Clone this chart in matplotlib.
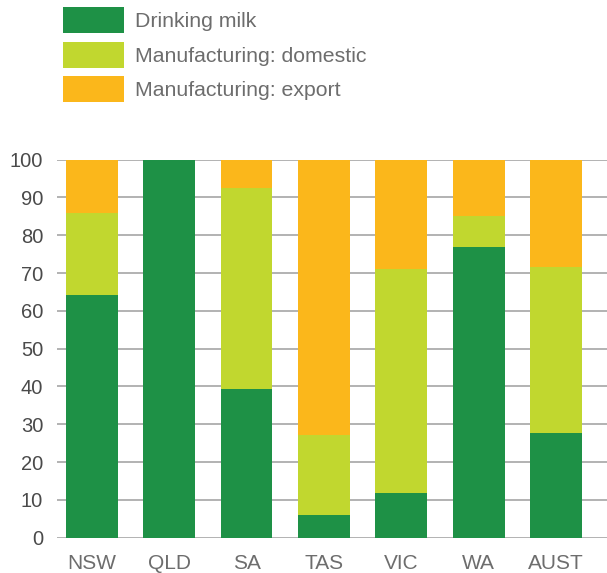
import matplotlib.pyplot as plt
import numpy as np

plt.rcParams['font.family'] = ['Liberation Sans', 'DejaVu Sans']

regions = ["NSW", "QLD", "SA", "TAS", "VIC", "WA", "AUST"]
drinking = [64.2, 100.0, 39.4, 6.0, 11.9, 76.9, 27.7]
domestic = [21.6, 0.0, 53.2, 21.2, 59.2, 8.3, 43.9]
export = [14.2, 0.0, 7.4, 72.8, 28.9, 14.8, 28.4]

series = [
    ("Drinking milk", drinking, "#1e9146"),
    ("Manufacturing: domestic", domestic, "#c1d72f"),
    ("Manufacturing: export", export, "#fbb71b"),
]

fig = plt.figure(figsize=(6.07, 5.73), dpi=100)
ax = fig.add_axes([0.094, 0.0616, 0.906, 0.6597])

x = np.arange(len(regions))
bottom = np.zeros(len(regions))
handles = []
for label, vals, color in series:
    bars = ax.bar(x, vals, width=0.67, bottom=bottom, color=color, label=label, zorder=3)
    handles.append(bars)
    bottom += np.array(vals)

ax.set_ylim(0, 100)
ax.set_xlim(-0.45, 6.66)
ax.set_yticks(range(0, 101, 10))
ax.set_xticks(x)
ax.set_xticklabels(regions)
ax.yaxis.grid(True, color="#a6a6a6", linewidth=1.2, zorder=0)
ax.tick_params(axis="both", length=0, colors="#6d6d6d")
ax.tick_params(axis="y", pad=10, labelsize=14.5, labelcolor="#4a4a4a")
ax.tick_params(axis="x", pad=12, labelsize=15)
for side in ax.spines.values():
    side.set_visible(False)

fig.legend(handles=handles, loc="upper left", bbox_to_anchor=(0.1038, 0.988),
           frameon=False, fontsize=15.3, handlelength=2.87, handleheight=1.52,
           labelspacing=0.4, handletextpad=0.5, borderaxespad=0, borderpad=0,
           labelcolor="#6d6d6d")

fig.savefig("out.png", dpi=100)
